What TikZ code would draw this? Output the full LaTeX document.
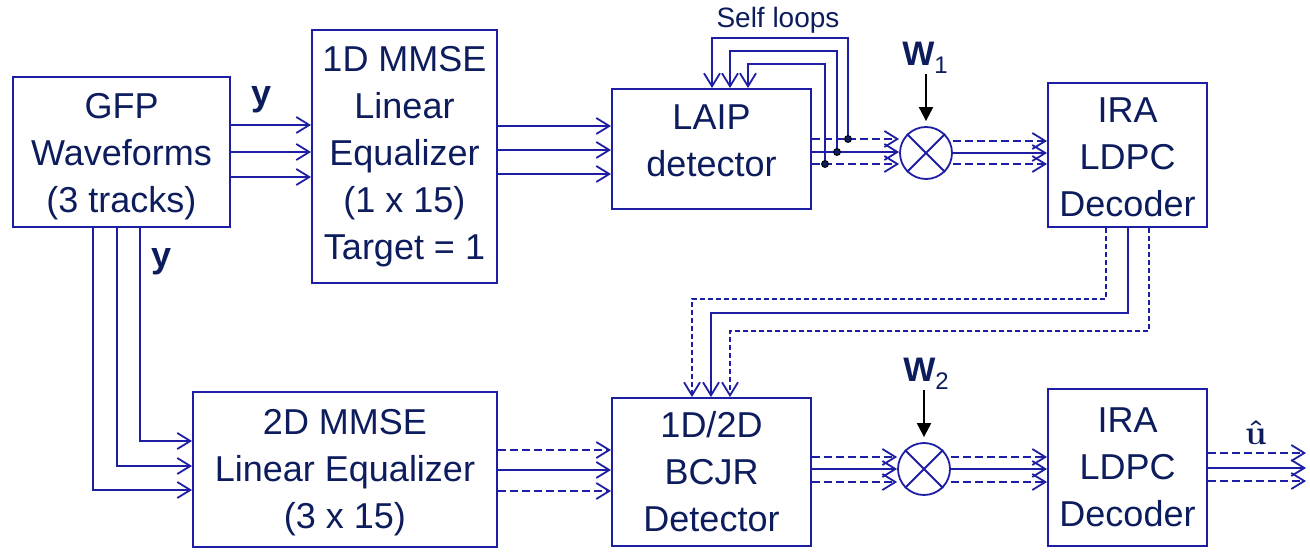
\documentclass[tikz,border=0pt]{standalone}
\usepackage{fontspec}
\setmainfont{Liberation Sans}
\usepackage{amsmath,amssymb}
\usepackage{tikz}
\usetikzlibrary{positioning,calc,arrows.meta}
\usepackage{xcolor}
\definecolor{wire}{RGB}{30,30,165}
\definecolor{ink}{RGB}{12,28,92}

\begin{document}
\begin{tikzpicture}[x=0.5pt,y=-0.5pt,
  blk/.style={rectangle,draw=wire,line width=1pt,text=ink,align=center,inner sep=0pt,font=\fontsize{18}{23.5}\selectfont},
  chev/.style={-{Straight Barb[length=6.5pt,width=8pt,line width=0.9pt]}},
  link/.style={draw=wire,line width=1pt,chev},
  dlink/.style={link,dash pattern=on 4pt off 2pt},
  fbk/.style={draw=wire,line width=0.75pt,chev},
  sfbk/.style={fbk,line width=1.2pt},
  dfbk/.style={fbk,line width=0.65pt,dash pattern=on 2.5pt off 1.5pt},
  warr/.style={draw=black,line width=1pt,-{Triangle[length=7pt,width=7pt]},shorten >=2.5pt},
  mult/.style={circle,draw=wire,line width=0.9pt,minimum size=26pt,inner sep=0pt},
  tapdot/.style={circle,fill=ink,draw=black,line width=0.4pt,minimum size=3.5pt,inner sep=0pt},
  lbl/.style={text=ink,inner sep=0pt}]
\useasboundingbox (0,0) rectangle (1310,555);

% blocks
\node (gfp) at (121.5,152) [blk,minimum width=108.5pt,minimum height=75pt,text height=61pt,text depth=0pt] {GFP\\Waveforms\\(3 tracks)};
\node (mmseA) at (404.5,156.5) [blk,minimum width=92.5pt,minimum height=126.5pt] {1D MMSE\\Linear\\Equalizer\\(1 x 15)\\Target = 1};
\node (laip) at (711.5,149) [blk,minimum width=99.5pt,minimum height=60pt,text height=28pt,text depth=0pt] {LAIP\\detector};
\node (iraA) at (1127.5,155) [blk,minimum width=79.5pt,minimum height=72pt,text height=62pt,text depth=0pt] {IRA\\LDPC\\Decoder};
\node (mmseB) at (345,469.5) [blk,minimum width=152pt,minimum height=77.5pt,text height=58.5pt,text depth=0pt] {2D MMSE\\Linear Equalizer\\(3 x 15)};
\node (bcjr) at (711.5,472) [blk,minimum width=99.5pt,minimum height=74pt] {1D/2D\\BCJR\\Detector};
\node (iraB) at (1127.5,467.5) [blk,minimum width=79.5pt,minimum height=78.5pt] {IRA\\LDPC\\Decoder};
\node (mulA) at (926,153) [mult] {};
\node (mulB) at (924,469) [mult] {};
\foreach \m in {mulA,mulB}
  \draw[wire,line width=0.9pt] (\m.north west) -- (\m.south east) (\m.north east) -- (\m.south west);

% upper path
\foreach \y in {125,152,177}
  \draw[link] (gfp.east |- 0,\y) -- (mmseA.west |- 0,\y);
\node (yA) at (262,100) [lbl,font=\fontsize{18}{18}\selectfont\bfseries] {y};
\foreach \y in {126,150,174}
  \draw[link] (mmseA.east |- 0,\y) -- (laip.west |- 0,\y);
\foreach \y/\s in {139/dlink,152/link,164/dlink}
  \draw[\s] (laip.east |- 0,\y) -- (mulA.west |- 0,\y);
\foreach \y/\s in {141/dlink,153/link,164/dlink}
  \draw[\s] (mulA.east |- 0,\y) -- (iraA.west |- 0,\y);

% self loops
\coordinate (tapA) at (848,139);
\coordinate (tapB) at (837,152);
\coordinate (tapC) at (825,164);
\foreach \t/\h/\x in {tapA/38/712,tapB/51/730,tapC/64/748}
  \draw[fbk] (\t) -- (\t |- 0,\h) -| (laip.north -| \x,0);
\foreach \t in {tapA,tapB,tapC}
  \node (dot\t) at (\t) [tapdot] {};
\node (selfl) at (778,20) [lbl,font=\fontsize{14}{14}\selectfont] {Self loops};

\node (wA) at (925,58) [lbl,font=\fontsize{17}{17}\selectfont\bfseries] {W\raisebox{-0.45ex}{\fontsize{12}{12}\selectfont\mdseries 1}};
\draw[warr] (wA.south -| mulA.north) -- (mulA.north);

% decoder feedback
\foreach \xa/\h/\xb/\s in {1106/299/692/dfbk,1128/313/711/sfbk,1149/331/730/dfbk}
  \draw[\s] (iraA.south -| \xa,0) |- (\xb,\h) -- (bcjr.north -| \xb,0);

% lower path
\foreach \x/\y in {93/490,117/466,140/441}
  \draw[link] (gfp.south -| \x,0) |- (mmseB.west |- 0,\y);
\node (yB) at (162,262) [lbl,font=\fontsize{18}{18}\selectfont\bfseries] {y};
\foreach \y/\s in {450/dlink,470/link,491/dlink}
  \draw[\s] (mmseB.east |- 0,\y) -- (bcjr.west |- 0,\y);
\foreach \y/\s in {457/dlink,469/link,482/dlink}
  \draw[\s] (bcjr.east |- 0,\y) -- (mulB.west |- 0,\y);
\foreach \y/\s in {457/dlink,469/link,482/dlink}
  \draw[\s] (mulB.east |- 0,\y) -- (iraB.west |- 0,\y);

\node (wB) at (926,374) [lbl,font=\fontsize{17}{17}\selectfont\bfseries] {W\raisebox{-0.45ex}{\fontsize{12}{12}\selectfont\mdseries 2}};
\draw[warr] (wB.south -| mulB.north) -- (mulB.north);

\coordinate (sink) at (1306,468);
\foreach \y/\s in {453/dlink,468/link,481/dlink}
  \draw[\s] (iraB.east |- 0,\y) -- (sink |- 0,\y);
\node (uhat) at (1256,432) [lbl,font=\fontsize{18}{18}\selectfont] {$\boldsymbol{\hat{\mathbf{u}}}$};
\end{tikzpicture}
\end{document}
